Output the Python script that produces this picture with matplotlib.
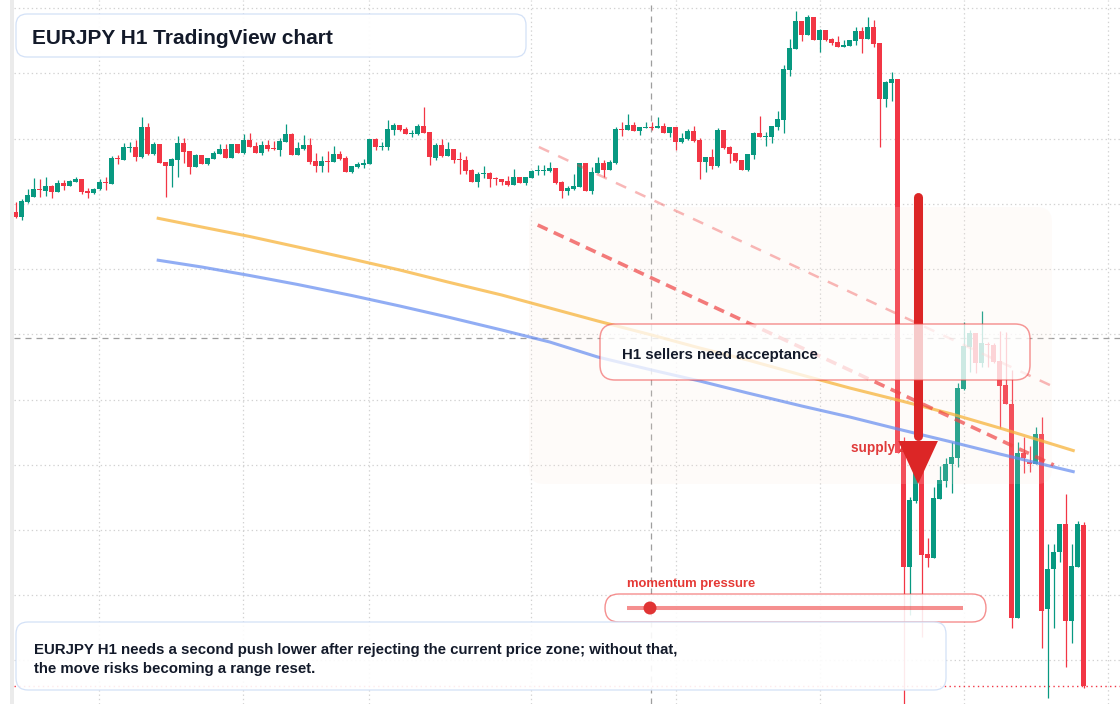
import matplotlib
matplotlib.use("Agg")
import matplotlib.pyplot as plt
from matplotlib.patches import FancyBboxPatch, Polygon, Rectangle, Circle
from matplotlib.lines import Line2D
from matplotlib.transforms import IdentityTransform
from matplotlib.colors import to_rgba

plt.rcParams["font.family"] = ["Liberation Sans", "DejaVu Sans"]

# EURJPY H1 candles
OPEN = [164.88, 164.83, 164.98, 165.03, 165.11, 165.09, 165.14, 165.08, 165.17, 165.14,
        165.18, 165.21, 165.09, 165.07, 165.11, 165.18, 165.16, 165.42, 165.40, 165.52,
        165.53, 165.43, 165.73, 165.46, 165.56, 165.38, 165.34, 165.40, 165.57, 165.49,
        165.33, 165.45, 165.36, 165.41, 165.46, 165.51, 165.42, 165.56, 165.47, 165.60,
        165.54, 165.47, 165.55, 165.52, 165.50, 165.58, 165.66, 165.45, 165.51, 165.55,
        165.39, 165.34, 165.39, 165.38, 165.46, 165.42, 165.28, 165.33, 165.35, 165.36,
        165.61, 165.53, 165.53, 165.70, 165.75, 165.71, 165.66, 165.66, 165.74, 165.68,
        165.42, 165.55, 165.44, 165.51, 165.41, 165.40, 165.30, 165.18, 165.26, 165.27,
        165.22, 165.21, 165.19, 165.15, 165.23, 165.17, 165.22, 165.29, 165.29, 165.29,
        165.32, 165.18, 165.09, 165.11, 165.13, 165.37, 165.09, 165.27, 165.37, 165.30,
        165.37, 165.71, 165.70, 165.75, 165.69, 165.72, 165.73, 165.72, 165.74, 165.67,
        165.73, 165.58, 165.61, 165.69, 165.60, 165.38, 165.43, 165.34, 165.70, 165.53,
        165.47, 165.40, 165.30, 165.45, 165.67, 165.63, 165.63, 165.73, 165.80, 166.30,
        166.51, 166.79, 166.65, 166.83, 166.60, 166.70, 166.61, 166.58, 166.53, 166.54,
        166.59, 166.69, 166.61, 166.73, 166.57, 166.01, 166.17, 166.21, 162.57, 161.33,
        161.99, 162.30, 161.46, 161.42, 162.01, 162.19, 162.36, 162.42, 163.11, 163.53,
        163.67, 163.37, 163.56, 163.55, 163.39, 163.15, 162.96, 160.82, 162.47, 162.38,
        162.36, 162.66, 160.91, 161.31, 161.48, 161.76, 160.79, 161.33, 161.75]
HIGH = [164.98, 165.01, 165.11, 165.22, 165.21, 165.23, 165.15, 165.20, 165.20, 165.20,
        165.23, 165.21, 165.12, 165.12, 165.21, 165.23, 165.44, 165.45, 165.57, 165.58,
        165.60, 165.83, 165.77, 165.58, 165.56, 165.38, 165.42, 165.64, 165.62, 165.49,
        165.46, 165.45, 165.42, 165.49, 165.56, 165.56, 165.56, 165.56, 165.66, 165.67,
        165.58, 165.59, 165.60, 165.59, 165.62, 165.76, 165.67, 165.58, 165.65, 165.62,
        165.47, 165.44, 165.49, 165.54, 165.49, 165.44, 165.34, 165.38, 165.41, 165.61,
        165.62, 165.58, 165.80, 165.77, 165.75, 165.73, 165.70, 165.76, 165.93, 165.68,
        165.57, 165.61, 165.58, 165.51, 165.48, 165.44, 165.31, 165.28, 165.34, 165.28,
        165.23, 165.21, 165.24, 165.31, 165.23, 165.23, 165.30, 165.35, 165.35, 165.38,
        165.32, 165.19, 165.14, 165.26, 165.37, 165.37, 165.33, 165.43, 165.40, 165.40,
        165.73, 165.78, 165.86, 165.78, 165.73, 165.78, 165.78, 165.83, 165.77, 165.73,
        165.73, 165.67, 165.71, 165.74, 165.62, 165.43, 165.51, 165.72, 165.70, 165.54,
        165.47, 165.40, 165.46, 165.68, 165.84, 165.68, 165.74, 165.89, 166.35, 166.61,
        166.89, 166.79, 166.85, 166.83, 166.71, 166.70, 166.62, 166.64, 166.60, 166.60,
        166.73, 166.73, 166.83, 166.80, 166.57, 166.19, 166.28, 166.21, 162.63, 162.03,
        162.35, 162.30, 161.62, 162.13, 162.34, 162.42, 162.58, 163.17, 163.78, 163.70,
        163.67, 163.89, 163.58, 163.57, 163.69, 163.68, 163.30, 162.58, 162.63, 162.54,
        162.73, 162.83, 161.56, 161.56, 161.76, 162.06, 161.56, 161.79, 161.78]
LOW = [164.82, 164.80, 164.97, 165.03, 165.03, 165.04, 165.02, 165.08, 165.10, 165.14,
       165.18, 165.06, 165.02, 165.06, 165.10, 165.10, 165.16, 165.36, 165.40, 165.48,
       165.39, 165.42, 165.45, 165.45, 165.37, 165.03, 165.13, 165.23, 165.37, 165.26,
       165.33, 165.36, 165.35, 165.41, 165.46, 165.42, 165.42, 165.47, 165.46, 165.53,
       165.47, 165.45, 165.49, 165.50, 165.44, 165.58, 165.45, 165.45, 165.50, 165.36,
       165.28, 165.28, 165.28, 165.38, 165.40, 165.28, 165.27, 165.32, 165.32, 165.36,
       165.50, 165.50, 165.50, 165.65, 165.69, 165.66, 165.63, 165.65, 165.67, 165.35,
       165.40, 165.43, 165.44, 165.37, 165.26, 165.26, 165.18, 165.13, 165.22, 165.13,
       165.15, 165.15, 165.14, 165.15, 165.17, 165.15, 165.22, 165.25, 165.25, 165.28,
       165.16, 165.02, 165.05, 165.10, 165.13, 165.09, 165.06, 165.27, 165.23, 165.30,
       165.36, 165.64, 165.70, 165.69, 165.65, 165.72, 165.70, 165.72, 165.67, 165.63,
       165.50, 165.57, 165.60, 165.58, 165.21, 165.28, 165.31, 165.33, 165.51, 165.37,
       165.38, 165.30, 165.29, 165.41, 165.63, 165.54, 165.57, 165.70, 165.67, 166.24,
       166.51, 166.59, 166.65, 166.60, 166.48, 166.59, 166.55, 166.53, 166.53, 166.54,
       166.55, 166.47, 166.61, 166.53, 165.53, 165.93, 165.99, 162.47, 159.95, 160.85,
       161.97, 160.63, 161.33, 161.42, 162.01, 162.13, 162.07, 162.33, 163.10, 163.28,
       163.27, 163.33, 163.33, 163.37, 162.72, 162.96, 160.72, 160.82, 162.27, 162.28,
       162.36, 160.52, 160.02, 160.72, 161.38, 160.33, 160.57, 161.33, 160.12]
CLOSE = [164.83, 164.99, 165.05, 165.11, 165.10, 165.14, 165.08, 165.17, 165.14, 165.19,
         165.21, 165.08, 165.07, 165.11, 165.18, 165.17, 165.42, 165.41, 165.53, 165.53,
         165.43, 165.73, 165.46, 165.56, 165.37, 165.34, 165.41, 165.57, 165.48, 165.33,
         165.45, 165.36, 165.42, 165.47, 165.51, 165.42, 165.56, 165.47, 165.60, 165.53,
         165.47, 165.55, 165.51, 165.51, 165.59, 165.66, 165.45, 165.52, 165.55, 165.38,
         165.34, 165.39, 165.38, 165.46, 165.41, 165.28, 165.34, 165.36, 165.37, 165.61,
         165.53, 165.54, 165.71, 165.75, 165.70, 165.66, 165.67, 165.74, 165.67, 165.43,
         165.55, 165.44, 165.51, 165.40, 165.40, 165.29, 165.18, 165.26, 165.27, 165.21,
         165.21, 165.18, 165.15, 165.23, 165.17, 165.23, 165.29, 165.30, 165.30, 165.32,
         165.17, 165.09, 165.12, 165.14, 165.37, 165.09, 165.28, 165.37, 165.30, 165.38,
         165.71, 165.70, 165.75, 165.69, 165.73, 165.73, 165.72, 165.74, 165.67, 165.73,
         165.58, 165.62, 165.69, 165.59, 165.38, 165.43, 165.34, 165.70, 165.52, 165.46,
         165.39, 165.30, 165.46, 165.67, 165.63, 165.64, 165.74, 165.81, 166.31, 166.52,
         166.79, 166.65, 166.83, 166.60, 166.70, 166.60, 166.57, 166.53, 166.55, 166.60,
         166.69, 166.61, 166.73, 166.56, 166.01, 166.18, 166.21, 162.47, 161.33, 162.00,
         162.30, 161.45, 161.42, 162.02, 162.20, 162.36, 162.43, 163.12, 163.54, 163.67,
         163.37, 163.57, 163.55, 163.38, 163.14, 162.96, 160.82, 162.47, 162.42, 162.36,
         162.66, 160.89, 161.31, 161.48, 161.76, 160.79, 161.34, 161.76, 160.14]

# moving averages (sampled along the curves)
MA_X = [23.5, 31, 39, 47, 56, 64, 72, 81, 89, 97, 106, 114, 122, 131, 139, 147, 156, 164, 176.5]
MA_FAST = [164.82, 164.73, 164.635, 164.53, 164.41, 164.30, 164.18, 164.05, 163.92, 163.79,
           163.65, 163.52, 163.40, 163.25, 163.12, 163.00, 162.86, 162.72, 162.49]
MA_SLOW = [164.40, 164.33, 164.245, 164.155, 164.045, 163.94, 163.83, 163.70, 163.58, 163.43,
           163.30, 163.19, 163.07, 162.94, 162.83, 162.71, 162.58, 162.46, 162.28]

# descending trend lines
TREND_X = [87.0, 173.0]
TREND_Y = [164.75, 162.35]
TREND2_X = [87.2, 172.7]
TREND2_Y = [165.53, 163.14]

GRID_X = [13.9, 37.9, 58.9, 85.9, 110.05, 134.05, 158.05, 182.05]
GRID_Y = [166.92, 166.27, 165.61, 164.96, 164.31, 163.66, 163.00, 162.35, 161.70, 161.05, 160.40]
CROSS_X = 105.9
CROSS_Y = 163.62
LAST_PRICE = 160.14

ARROW_X = 150.4
ARROW_TOP = 165.03
ARROW_BASE = 162.59
ARROW_TIP = 162.16
ARROW_HALF = 3.3

UP = "#089981"
DOWN = "#f23645"
W, H = 1120, 704

fig = plt.figure(figsize=(W / 100, H / 100), dpi=100, facecolor="white")
ax = fig.add_axes([14 / W, 0, 1 - 14 / W, 1])
ax.set_facecolor("white")
for s in ax.spines.values():
    s.set_visible(False)

# grid
ax.set_xticks(GRID_X)
ax.set_yticks(GRID_Y)
ax.tick_params(length=0, labelleft=False, labelbottom=False)
ax.grid(True, color="#d2d2d2", lw=0.9, linestyle=(0, (1.1, 2.35)))
ax.set_axisbelow(True)

# crosshair + last price
ax.axvline(CROSS_X, color="#9e9e9e", lw=0.9, linestyle=(0, (4.8, 4.0)), zorder=1)
ax.axhline(CROSS_Y, color="#9e9e9e", lw=0.9, linestyle=(0, (4.8, 4.0)), zorder=1)
ax.axhline(LAST_PRICE, color=DOWN, lw=1.0, linestyle=(0, (1, 2.4)), zorder=1)

# candles
xs = list(range(len(OPEN)))
cols = [UP if c >= o else DOWN for o, c in zip(OPEN, CLOSE)]
bottoms = [min(o, c) for o, c in zip(OPEN, CLOSE)]
heights = [max(abs(c - o), 0.012) for o, c in zip(OPEN, CLOSE)]
ax.vlines(xs, LOW, HIGH, colors=cols, lw=0.9, zorder=2)
ax.bar(xs, heights, bottom=bottoms, width=0.8, color=cols, linewidth=0, zorder=2.1)

# supply zone shading (pixel layout)
zone = FancyBboxPatch((529, H - 484), 523, 277, boxstyle="round,pad=0,rounding_size=15",
                      transform=IdentityTransform(), facecolor=to_rgba("#fde8dc", 0.15),
                      edgecolor="none", clip_on=False, zorder=3)
ax.add_patch(zone)
ax.text(139.2, 162.48, "supply zone", color="#e03a3a", fontsize=9.8,
        fontweight="bold", va="baseline", zorder=3.5)

ax.plot(MA_X, MA_FAST, color="#f7b43b", alpha=0.75, lw=2.2, zorder=4, solid_capstyle="butt")
ax.plot(MA_X, MA_SLOW, color="#638bf0", alpha=0.7, lw=2.2, zorder=4, solid_capstyle="butt")
ax.plot(TREND2_X, TREND2_Y, color="#ef4444", alpha=0.38, lw=1.8, linestyle=(0, (4.5, 4.0)), zorder=4)
ax.plot(TREND_X, TREND_Y, color="#ef4444", alpha=0.7, lw=2.6, linestyle=(0, (3.0, 1.9)), zorder=4)

# arrow
ax.plot([ARROW_X, ARROW_X], [ARROW_TOP, ARROW_BASE + 0.05], color="#dc2626", lw=6.5,
        solid_capstyle="round", zorder=5)
ax.add_patch(Polygon([[ARROW_X - ARROW_HALF, ARROW_BASE], [ARROW_X + ARROW_HALF, ARROW_BASE],
                      [ARROW_X, ARROW_TIP]], closed=True, facecolor="#dc2626",
                     edgecolor="none", zorder=5))

ax.set_xlim(-0.283, 184.05)
ax.set_ylim(159.96, 167.0)

# figure-level overlays in pixel coordinates
def rbox(x0, y0, x1, y1, r, ec, lw, fa=0.9, z=10):
    p = FancyBboxPatch((x0, H - y1), x1 - x0, y1 - y0,
                       boxstyle=f"round,pad=0,rounding_size={r}",
                       transform=IdentityTransform(), facecolor=to_rgba("white", fa),
                       edgecolor=ec, lw=lw, zorder=z)
    fig.add_artist(p)

def ftext(x, y, s, size, color, z=11):
    fig.text(x / W, 1 - y / H, s, fontsize=size, fontweight="bold", color=color,
             va="baseline", ha="left", zorder=z)

fig.add_artist(Rectangle((10, 0), 4, H, transform=IdentityTransform(),
                         facecolor="#ebebeb", edgecolor="none", zorder=9))

rbox(16, 14, 526, 57, 11, "#d3e1f7", 0.9, fa=0.95)
ftext(32, 43.5, "EURJPY H1 TradingView chart", 15, "#131a2a")

rbox(600, 324, 1030, 380, 15, to_rgba("#ef4444", 0.55), 1.1, fa=0.76)
ftext(622, 359, "H1 sellers need acceptance", 10.8, "#131a2a")

ftext(627, 587, "momentum pressure", 9.4, "#e53935")
rbox(605, 594, 986, 622, 14, to_rgba("#ef4444", 0.6), 1.0, fa=0.88)
fig.add_artist(Line2D([627, 963], [H - 608, H - 608], transform=IdentityTransform(),
                      color="#ef4444", alpha=0.6, lw=2.9, solid_capstyle="butt", zorder=11))
fig.add_artist(Circle((650, H - 608), 6.5, transform=IdentityTransform(),
                      facecolor="#e03434", edgecolor="none", zorder=12))

rbox(16, 622, 946, 690, 12, "#d3e1f7", 0.9, fa=0.9)
ftext(34, 654, "EURJPY H1 needs a second push lower after rejecting the current price zone; without that,",
      10.8, "#131a2a")
ftext(34, 673.3, "the move risks becoming a range reset.", 10.8, "#131a2a")

fig.savefig("out.png", dpi=100, facecolor="white")
